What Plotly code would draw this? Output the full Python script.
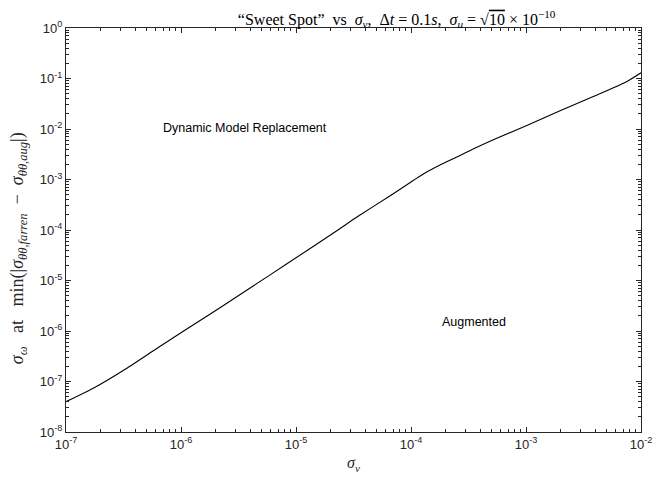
import plotly.graph_objects as go

# data
sigma_v = [1.0e-7, 1.71e-7, 3.30e-7, 6.34e-7, 1.14e-6, 2.20e-6, 4.24e-6, 8.15e-6,
           2.18e-5, 3.44e-5, 6.64e-5, 1.28e-4, 1.77e-4, 2.45e-4, 3.40e-4, 5.38e-4,
           1.04e-3, 2.00e-3, 3.85e-3, 7.40e-3, 1.0e-2]
sigma_w = [3.98e-8, 7.26e-8, 1.77e-7, 4.71e-7, 1.12e-6, 2.92e-6, 7.78e-6, 2.07e-5,
           9.12e-5, 1.85e-4, 4.82e-4, 1.29e-3, 1.92e-3, 2.72e-3, 3.93e-3, 6.34e-3,
           1.20e-2, 2.32e-2, 4.40e-2, 8.53e-2, 1.30e-1]

x_tickvals = [1e-7, 1e-6, 1e-5, 1e-4, 1e-3, 1e-2]
x_ticktext = ["10<sup>-7</sup>", "10<sup>-6</sup>", "10<sup>-5</sup>", "10<sup>-4</sup>",
              "10<sup>-3</sup>", "10<sup>-2</sup>"]
y_tickvals = [1e-8, 1e-7, 1e-6, 1e-5, 1e-4, 1e-3, 1e-2, 1e-1, 1e0]
y_ticktext = ["10<sup>-8</sup>", "10<sup>-7</sup>", "10<sup>-6</sup>", "10<sup>-5</sup>",
              "10<sup>-4</sup>", "10<sup>-3</sup>", "10<sup>-2</sup>", "10<sup>-1</sup>",
              "10<sup>0</sup>"]

fig = go.Figure()
fig.add_trace(go.Scatter(x=sigma_v, y=sigma_w, mode="lines", line_shape="spline",
                         line=dict(color="black", width=1.1, smoothing=0.6), showlegend=False))

serif = "Liberation Serif, Times New Roman, serif"
sans = "Liberation Sans, Arial, sans-serif"

axis_common = dict(
    type="log", showgrid=False, zeroline=False, showline=True, linecolor="#262626",
    linewidth=1, mirror="allticks", ticks="inside", ticklen=5, tickcolor="#262626",
    tickfont=dict(family=sans, size=13, color="#262626"),
    minor=dict(ticks="inside", ticklen=3, tickcolor="#262626", dtick="D1", showgrid=False),
)

fig.update_xaxes(range=[-7, -2], tickvals=x_tickvals, ticktext=x_ticktext,
                 title=dict(text="<i>σ<sub>v</sub></i>", font=dict(family=serif, size=16, color="#262626"),
                            standoff=6),
                 **axis_common)
fig.update_yaxes(range=[-8, 0], tickvals=y_tickvals, ticktext=y_ticktext, **axis_common)

fig.update_layout(
    width=664, height=481,
    margin=dict(l=66, r=12, t=28, b=49),
    plot_bgcolor="white", paper_bgcolor="white",
    title=dict(text="“Sweet Spot”  vs  <i>σ<sub>v</sub></i>,  Δ<i>t</i> = 0.1<i>s</i>,  <i>σ<sub>u</sub></i> = √<span style='text-decoration:overline'>10</span> × 10<sup>−10</sup>",
               x=0.575, xref="paper", xanchor="center", y=0.972, yanchor="top",
               font=dict(family=serif, size=16, color="black")),
    annotations=[
        dict(x=-5.447, y=-1.98, xref="x", yref="y", text="Dynamic Model Replacement",
             showarrow=False, font=dict(family=sans, size=12.5, color="black")),
        dict(x=-3.45, y=-5.82, xref="x", yref="y", text="Augmented",
             showarrow=False, font=dict(family=sans, size=12.5, color="black")),
        dict(x=0, xref="paper", xshift=-48, xanchor="center", y=0.455, yref="paper", yanchor="middle",
             textangle=-90, showarrow=False,
             text="<i>σ<sub>ω</sub></i>   at   min(|<i>σ<sub>θθ,farren</sub></i>  −  <i>σ<sub>θθ,aug</sub></i>|)",
             font=dict(family=serif, size=18, color="#262626")),
    ],
)

fig.write_html("out.html")
